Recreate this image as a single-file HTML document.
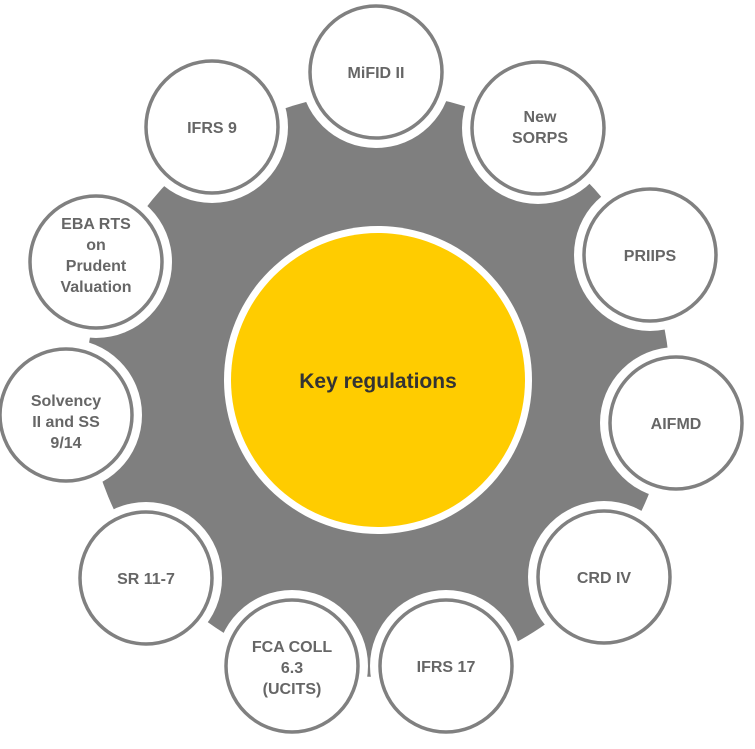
<!DOCTYPE html>
<html><head><meta charset="utf-8"><style>
html,body{margin:0;padding:0;background:#fff;}
svg{display:block;}
text{font-family:"Liberation Sans",Arial,sans-serif;font-weight:bold;fill:#666;font-size:16px;text-anchor:middle;}
</style></head><body>
<svg width="755" height="749" viewBox="0 0 755 749" xmlns="http://www.w3.org/2000/svg">
<circle cx="378" cy="385" r="292" fill="#7f7f7f"/>
<g fill="#fff">
<circle cx="376" cy="72" r="76"/><circle cx="538" cy="128" r="76"/><circle cx="650" cy="255" r="76"/>
<circle cx="676" cy="423" r="76"/><circle cx="604" cy="577" r="76"/><circle cx="446" cy="666" r="76"/>
<circle cx="292" cy="666" r="76"/><circle cx="146" cy="578" r="76"/><circle cx="66" cy="415" r="76"/>
<circle cx="96" cy="262" r="76"/><circle cx="212" cy="127" r="76"/>
</g>
<g fill="#fff" stroke="#808080" stroke-width="3.5">
<circle cx="376" cy="72" r="66"/><circle cx="538" cy="128" r="66"/><circle cx="650" cy="255" r="66"/>
<circle cx="676" cy="423" r="66"/><circle cx="604" cy="577" r="66"/><circle cx="446" cy="666" r="66"/>
<circle cx="292" cy="666" r="66"/><circle cx="146" cy="578" r="66"/><circle cx="66" cy="415" r="66"/>
<circle cx="96" cy="262" r="66"/><circle cx="212" cy="127" r="66"/>
</g>
<circle cx="378" cy="380" r="154" fill="#fff"/>
<circle cx="378" cy="380" r="147" fill="#FFCC00"/>
<text x="378" y="388" style="font-size:21px;fill:#333">Key regulations</text>
<text x="376" y="78">MiFID II</text>
<text x="540" y="122">New</text><text x="540" y="143">SORPS</text>
<text x="650" y="261">PRIIPS</text>
<text x="676" y="429">AIFMD</text>
<text x="604" y="583">CRD IV</text>
<text x="446" y="672">IFRS 17</text>
<text x="292" y="652">FCA COLL</text><text x="292" y="673">6.3</text><text x="292" y="694">(UCITS)</text>
<text x="146" y="584">SR 11-7</text>
<text x="66" y="406">Solvency</text><text x="66" y="427">II and SS</text><text x="66" y="448">9/14</text>
<text x="96" y="229">EBA RTS</text><text x="96" y="250">on</text><text x="96" y="271">Prudent</text><text x="96" y="292">Valuation</text>
<text x="212" y="133">IFRS 9</text>
</svg>
</body></html>
